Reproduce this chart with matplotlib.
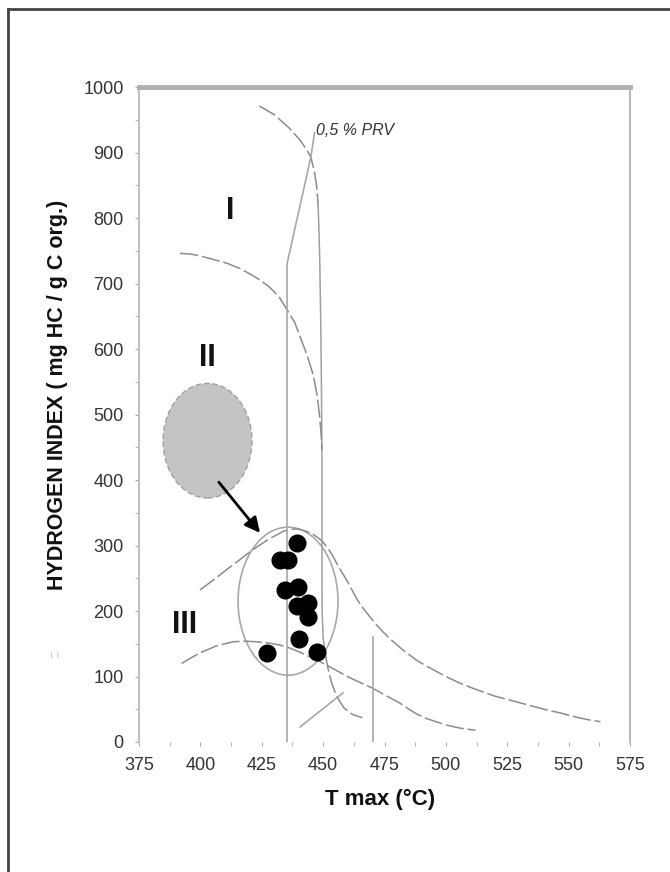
import matplotlib.pyplot as plt
from matplotlib.patches import Ellipse
from matplotlib.lines import Line2D

plt.rcParams['font.family'] = ['Liberation Sans', 'DejaVu Sans']

# kerogen evolution paths (Tmax, HI)
tmax_I_top = [424, 430, 436, 440.6, 443.5, 445, 446.5, 447.5, 448]
hi_I_top = [971, 958, 938, 919, 903, 893, 870, 845, 817]
tmax_I_mid = [448, 448.3, 448.6, 449, 449.3, 449.5, 449.5, 449.6, 450, 450.8]
hi_I_mid = [817, 780, 740, 650, 550, 446, 300, 200, 160, 135]
tmax_I_low = [450.8, 452, 453.5, 455.5, 458.5, 462, 466]
hi_I_low = [135, 112, 90, 70, 52, 42, 37]

tmax_II = [391.7, 396, 400, 405, 410.8, 416, 420, 424, 428, 432, 435.3, 438.5,
           441, 443.5, 446, 447.5, 448.5, 449.2, 449.5]
hi_II = [746, 745, 742, 737, 731, 723, 715, 706, 695, 680, 660, 640,
         615, 590, 560, 530, 500, 470, 446]

tmax_IIb = [399.8, 403, 406.9, 411, 416, 420, 424.3, 428, 431, 434, 437, 440, 443,
            445.5, 447.5, 449.5, 451.5, 453.5, 455.5, 457.5, 459.6, 461.5, 463.5,
            465.5, 467.8, 471, 474.4, 478, 482, 488, 494, 500, 505, 511, 520, 529,
            540, 547, 553, 558, 563]
hi_IIb = [232, 241, 252, 264, 278, 290, 301, 310, 316, 322, 325, 325, 322,
          318, 313, 307, 298, 287, 273, 260, 247, 234, 220,
          208, 197, 182, 168, 155, 142, 125, 112, 100, 91, 82, 70, 61,
          50, 44, 38, 34, 31]

tmax_III = [392.4, 396, 399.8, 403, 406, 410, 413.4, 418, 423, 428, 432.4, 436, 440,
            444, 447, 451.6, 456, 461, 465.5, 470.2, 475, 481, 485, 488, 492, 496,
            500, 506, 512]
hi_III = [120, 128, 136, 141, 146, 150, 153, 154, 153, 151, 148, 144, 138,
          131, 126, 117, 108, 98, 90, 82, 72, 60, 50, 43, 36, 31,
          26, 21, 18]

# vitrinite reflectance lines
tmax_prv05 = [446.5, 445, 435.3, 435.3]
hi_prv05 = [930, 893, 730, 0]
tmax_prv2 = [470.3, 470.3]
hi_prv2 = [160, 0]
tmax_seg = [440.6, 458.1]
hi_seg = [23, 75]

# samples
tmax_pts = [439.2, 432.4, 435.5, 434.5, 439.9, 439.2, 444, 444, 440, 427, 447.7]
hi_pts = [304, 278, 278, 232, 236, 207, 212, 191, 158, 136, 138]

fig = plt.figure(figsize=(6.7, 8.72), dpi=100)
ax = fig.add_axes([139/670, 1-742/872, (630-139)/670, (742-87)/872])

dash = (0, (12, 2.5))
cc = '#8c8c8c'
ax.plot(tmax_I_top, hi_I_top, color=cc, lw=1.1, ls=dash)
ax.plot(tmax_I_mid, hi_I_mid, color='#a0a0a0', lw=1.1)
ax.plot(tmax_I_low, hi_I_low, color=cc, lw=1.1, ls=dash)
ax.plot(tmax_II, hi_II, color=cc, lw=1.1, ls=dash)
ax.plot(tmax_IIb, hi_IIb, color=cc, lw=1.1, ls=dash)
ax.plot(tmax_III, hi_III, color=cc, lw=1.1, ls=dash)
ax.plot(tmax_prv05, hi_prv05, color='#a8a8a8', lw=1.2)
ax.plot(tmax_prv2, hi_prv2, color='#a8a8a8', lw=1.2)
ax.plot(tmax_seg, hi_seg, color='#a8a8a8', lw=1.2)

ax.add_patch(Ellipse((402.9, 460), 36.2, 175, facecolor='#c4c4c4',
                     edgecolor='#a0a0a0', lw=1, ls=(0, (4, 2))))
ax.add_patch(Ellipse((435.7, 215), 40.7, 226, facecolor='none',
                     edgecolor='#a8a8a8', lw=1.2))

ax.annotate('', xy=(425, 316), xytext=(406.8, 400),
            arrowprops=dict(arrowstyle='-|>,head_length=0.9,head_width=0.45',
                            color='black', lw=2))

ax.plot(tmax_pts, hi_pts, 'o', color='black', ms=12, zorder=5)

ax.text(412.3, 810, 'I', fontsize=22, fontweight='bold', ha='center', va='center', color='#111')
ax.text(403, 586, 'II', fontsize=22, fontweight='bold', ha='center', va='center', color='#111')
ax.text(393.7, 179, 'III', fontsize=22, fontweight='bold', ha='center', va='center', color='#111')
ax.text(447.3, 933, '0,5 % PRV', fontsize=11.5, style='italic', ha='left', va='center', color='#333')

ax.set_xlim(375, 575)
ax.set_ylim(0, 1000)
ax.set_xticks(range(375, 576, 25))
ax.set_yticks(range(0, 1001, 100))
ax.set_xticks([387.5 + 25*i for i in range(8)], minor=True)
ax.set_yticks([50 + 100*i for i in range(10)], minor=True)
ax.tick_params(which='both', direction='out', length=3, color='#aaaaaa',
               labelsize=13, labelcolor='#333333', pad=8)

ax.spines['bottom'].set_visible(False)
ax.spines['left'].set_color('#c0c0c0')
ax.spines['left'].set_linewidth(1.5)
ax.spines['right'].set_color('#b8b8b8')
ax.spines['right'].set_linewidth(1.5)
ax.spines['top'].set_color('#b0b0b0')
ax.spines['top'].set_linewidth(3.5)

ax.set_xlabel('T max (°C)', fontsize=16, fontweight='bold', color='#111')
ax.xaxis.set_label_coords(0.49, -0.072)
ax.set_ylabel('HYDROGEN INDEX ( mg HC / g C org.)', fontsize=15.5, fontweight='bold', color='#111')
ax.yaxis.set_label_coords(-0.145, 0.53)

fig.text(55/670, 1-655/872, 'ı ı', fontsize=8, color='#cccccc', ha='center', va='center')

# outer frame
fig.add_artist(Line2D([8/670, 8/670], [0, 1-9/872], color='#444444', lw=2))
fig.add_artist(Line2D([8/670, 1], [1-9/872, 1-9/872], color='#444444', lw=2))

plt.savefig('out.png', dpi=100)
